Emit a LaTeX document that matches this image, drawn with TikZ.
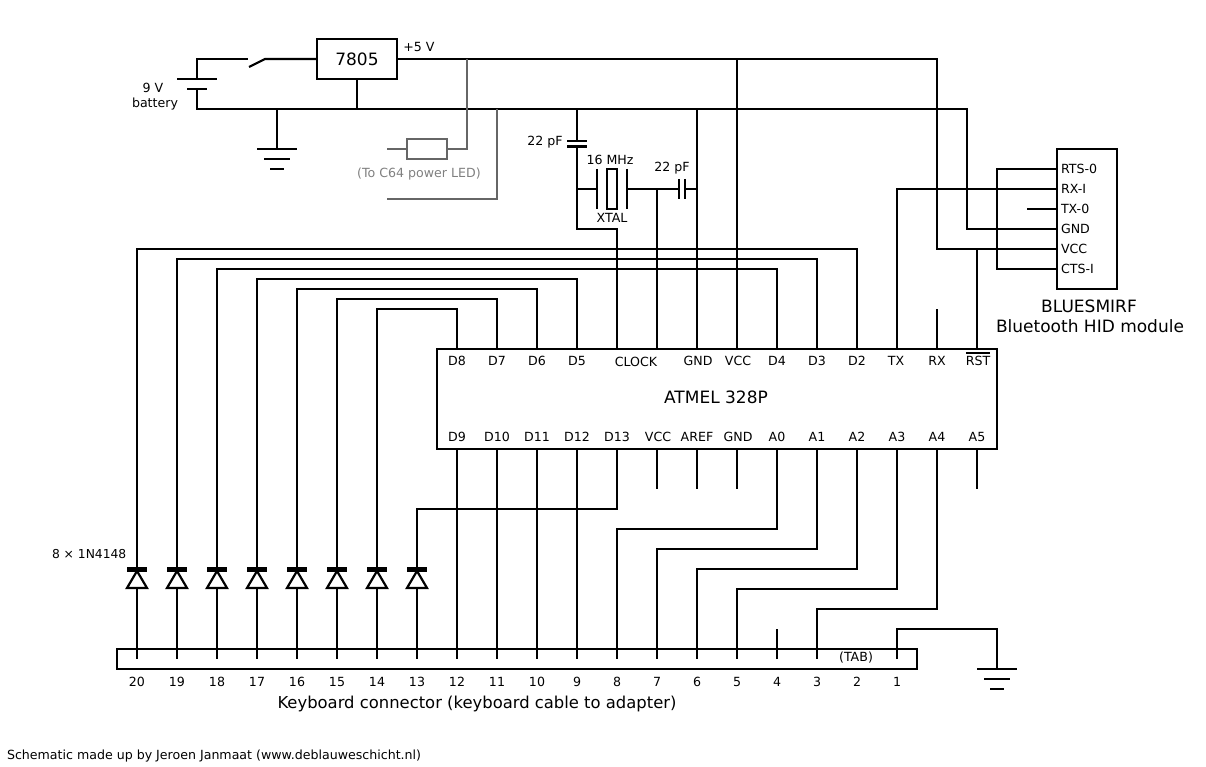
\documentclass[tikz,border=0pt]{standalone}
\usepackage{fontspec}
\setmainfont{DejaVu Sans}
\newcommand{\fsz}[1]{\fontsize{#1}{#1}\selectfont}
\tikzset{
  wire/.style={line width=2.2pt,black},
  gwire/.style={line width=2.2pt,draw=black!60},
  box/.style={draw,line width=2.2pt,inner sep=0pt,outer sep=0pt,rectangle},
  lab/.style={inner sep=0pt,outer sep=0pt,font=\fsz{12.6},anchor=center},
  biglab/.style={inner sep=0pt,outer sep=0pt,font=\fsz{17},anchor=center}
}
\begin{document}
\begin{tikzpicture}[x=1pt,y=-1pt]
\useasboundingbox (0,0) rectangle (1206,767);
% main boxes
\node[box,minimum width=80pt,minimum height=40pt] (reg) at (357,59) {};
\node[biglab] (regt) at (357,59) {7805};
\node[box,minimum width=560pt,minimum height=100pt] (ic) at (717,399) {};
\node[biglab] (ict) at (716,397) {ATMEL 328P};
\node[box,minimum width=60pt,minimum height=140pt] (bt) at (1087,219) {};
\node[box,minimum width=800pt,minimum height=20pt] (kb) at (517,659) {};
\node[box,minimum width=40pt,minimum height=20pt,draw=black!60] (res) at (427,149) {};
\node[box,minimum width=10pt,minimum height=40pt] (xt) at (612,189) {};
% IC pins, top and bottom
\foreach \n/\x in {D8/457,D7/497,D6/537,D5/577,CLK/617,GND/697,VCC/737,D4/777,D3/817,D2/857,TX/897,RX/937,RST/977}
  \coordinate (t\n) at (\x,349);
\foreach \n/\x in {D9/457,D10/497,D11/537,D12/577,D13/617,VCC/657,AREF/697,GND/737,A0/777,A1/817,A2/857,A3/897,A4/937,A5/977}
  \coordinate (b\n) at (\x,449);
\coordinate (tCLKb) at (657,349);
\foreach \n/\x in {D8/457,D7/497,D6/537,D5/577,GND/698,VCC/738,D4/777,D3/817,D2/857,TX/896,RX/937}
  \node[lab] (lt\n) at (\x,361) {\n};
\node[lab] (ltclk) at (636,362) {CLOCK};
\node[lab,anchor=base] (ltrst) at (978,365.5) {\vbox{\hrule height 1.2pt\kern2.6pt\hbox{RST}}};
\foreach \n/\x in {D9/457,D10/497,D11/537,D12/577,D13/617,VCC/658,AREF/697,GND/738,A0/777,A1/817,A2/857,A3/897,A4/937,A5/977}
  \node[lab] (lb\n) at (\x,437) {\n};
% Bluetooth pins
\foreach \n/\t/\y in {rts/RTS-0/169,rx/RX-I/189,tx/TX-0/209,gnd/GND/229,vcc/VCC/249,cts/CTS-I/269}{
  \coordinate (s\n) at (1057,\y);
  \node[lab,anchor=west] (l\n) at (1061,\y) {\t};
}
\node[biglab] (btn) at (1089,306) {BLUESMIRF};
\node[biglab] (btm) at (1090,326) {Bluetooth HID module};
% keyboard pins
\foreach \n in {1,...,20}{
  \pgfmathsetmacro{\xx}{137+(20-\n)*40}
  \coordinate (k\n) at (\xx,659);
  \node[lab] (kl\n) at (\xx,682) {\n};
}
\node[lab] (tab) at (856,658) {(TAB)};
\node[biglab,font=\fsz{16.4}] (kbt) at (477,703.5) {Keyboard connector (keyboard cable to adapter)};
% diodes
\foreach \n/\x in {20/137,19/177,18/217,17/257,16/297,15/337,14/377,13/417}{
  \coordinate (dk\n) at (\x,569);
  \coordinate (da\n) at (\x,588);
  \fill (\x-10,566.5) rectangle (\x+10,571.5);
  \draw[wire,line join=miter] (\x,571) -- (\x+10,588) -- (\x-10,588) -- cycle;
  \draw[wire] (da\n) -- (k\n);
}
\node[lab,font=\fsz{12.3},anchor=west] (dn) at (52,554) {8 × 1N4148};
% battery and switch
\coordinate (batT) at (197,59);
\coordinate (batP1) at (197,79);
\coordinate (batP2) at (197,89);
\coordinate (batB) at (197,109);
\draw[wire] (batP1) |- (batT) -- (248,59);
\draw[wire] (177,79) -- (217,79);
\draw[wire] (187,89) -- (207,89);
\draw[wire] (249,67) -- (265,59) -- (reg.west);
\node[lab] (b9) at (153,88) {9 V};
\node[lab] (bat) at (155,104) {battery};
\node[lab] (plus) at (419,47) {+5 V};
% rails
\coordinate (gndEnd) at (967,109);
\coordinate (vccEnd) at (937,59);
\draw[wire] (batP2) |- (gndEnd) |- (sgnd);
\draw[wire] (reg.east) -- (vccEnd) |- (svcc);
\draw[wire] (reg.south) -- (357,109);
\draw[wire] (tRST) -- (977,249);
% ground symbols
\coordinate (g1) at (277,149);
\draw[wire] (277,109) -- (g1);
\draw[wire] (257,149) -- (297,149);
\draw[wire] (264,159) -- (290,159);
\draw[wire] (270,169) -- (284,169);
\coordinate (g2) at (997,669);
\draw[wire] (k1) -- (897,629) -| (g2);
\draw[wire] (977,669) -- (1017,669);
\draw[wire] (984,679) -- (1010,679);
\draw[wire] (990,689) -- (1004,689);
% gray LED branch
\draw[gwire] (467,59) -- (467,149) -- (res.east);
\draw[gwire] (res.west) -- (387,149);
\draw[gwire] (497,109) -- (497,199) -- (387,199);
\node[lab,text=black!50] (led) at (419,174) {(To C64 power LED)};
% crystal section
\draw[wire] (577,109) -- (577,141);
\draw[wire] (567,141) -- (587,141);
\draw[wire] (567,146.5) -- (587,146.5);
\draw[wire] (577,146.5) -- (577,229) -| (tCLK);
\draw[wire] (577,189) -- (597,189);
\draw[wire] (597,169) -- (597,209);
\draw[wire] (627,169) -- (627,209);
\draw[wire] (628,189) -- (679,189);
\draw[wire] (679,179) -- (679,199);
\draw[wire] (685,179) -- (685,199);
\draw[wire] (685,189) -- (697,189);
\draw[wire] (657,189) -- (tCLKb);
\draw[wire] (697,109) -- (tGND);
\draw[wire] (737,59) -- (tVCC);
\node[lab] (c1) at (545,142) {22 pF};
\node[lab] (c2) at (672,168) {22 pF};
\node[lab] (xf) at (610,160) {16 MHz};
\node[lab] (xn) at (612,218) {XTAL};
% IC top to diodes
\draw[wire] (tD2) -- ++(0,-100) -| (dk20);
\draw[wire] (tD3) -- ++(0,-90) -| (dk19);
\draw[wire] (tD4) -- ++(0,-80) -| (dk18);
\draw[wire] (tD5) -- ++(0,-70) -| (dk17);
\draw[wire] (tD6) -- ++(0,-60) -| (dk16);
\draw[wire] (tD7) -- ++(0,-50) -| (dk15);
\draw[wire] (tD8) -- ++(0,-40) -| (dk14);
\draw[wire] (bD13) -- ++(0,60) -| (dk13);
% other top pins
\draw[wire] (tRX) -- ++(0,-40);
\draw[wire] (tTX) |- (srx);
\draw[wire] (srts) -| (997,269) -- (scts);
\draw[wire] (stx) -- ++(-30,0);
% IC bottom to keyboard
\draw[wire] (bD9) -- (k12);
\draw[wire] (bD10) -- (k11);
\draw[wire] (bD11) -- (k10);
\draw[wire] (bD12) -- (k9);
\draw[wire] (bA0) -- ++(0,80) -| (k8);
\draw[wire] (bA1) -- ++(0,100) -| (k7);
\draw[wire] (bA2) -- ++(0,120) -| (k6);
\draw[wire] (bA3) -- ++(0,140) -| (k5);
\draw[wire] (bA4) -- ++(0,160) -| (k3);
\draw[wire] (k4) -- ++(0,-30);
\draw[wire] (bVCC) -- ++(0,40);
\draw[wire] (bAREF) -- ++(0,40);
\draw[wire] (bGND) -- ++(0,40);
\draw[wire] (bA5) -- ++(0,40);
% footer
\node[lab,anchor=west] (foot) at (7,756.5) {Schematic made up by Jeroen Janmaat (www.deblauweschicht.nl)};
\end{tikzpicture}
\end{document}
